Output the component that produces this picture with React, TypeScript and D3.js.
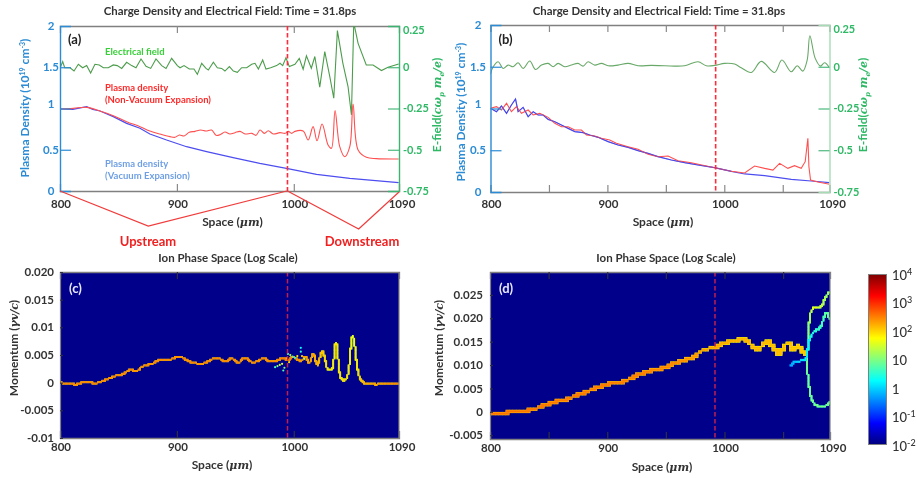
import { useEffect, useRef } from 'react';
import * as d3 from 'd3';

const FONT = 'Lato, "Open Sans", sans-serif';
const MATH = '"DejaVu Serif", "Liberation Serif", serif';

// panel (a)
const aFieldX = [800,802.3,804,808.6,812,815.7,819.4,822.8,826.2,829.9,833.6,837.1,841.3,845.6,849,852.8,857,861.3,865,869.3,873.6,877.6,882.1,887,890.7,895.5,900.4,902.7,906.1,910.6,914.6,917.5,921.2,924.9,926.9,931.2,934.6,938.3,941.1,944.9,948.3,951.7,955.4,959.7,964,966.8,969.7,973.4,976.2,980.2,985.3,988.2,990.5,993.3,996.2,1001,1004.7,1008,1010.8,1015,1018,1022.2,1026.5,1030.8,1034.2,1037.3,1042,1046.4,1049.3,1051.3,1055,1062,1067.8,1075,1080.6,1089.7];
const aField = [-.007,.034,-.003,-.003,-.023,.018,-.003,.01,-.035,.018,.014,-.003,-.003,.014,.01,-.007,.03,.01,-.003,.05,.006,-.007,.05,.01,-.007,.054,.01,-.003,.01,-.011,-.011,-.043,.024,-.007,-.017,.03,-.003,-.007,-.023,.004,-.023,-.031,-.003,-.003,.018,.024,-.011,.044,-.011,-.003,.01,.024,.01,.058,.004,.018,.054,-.012,.069,-.006,.065,-.12,.095,-.057,-.188,.222,.024,-.117,-.289,.27,.145,.014,.014,-.02,0,.02];
const aRedX = [800,811.4,822.8,834.2,845.6,857,868.4,876.9,885.5,894.1,898.4,902.1,906.1,910.6,915.5,920.3,924.9,929.7,933.5,936.9,941.1,945.4,949.7,954,958.3,964,967.7,971.1,974.8,978.2,982.5,988.2,992.5,995.3,998.2,1001,1008,1012.3,1016.5,1019.9,1024.2,1029.3,1032.2,1035.3,1039.3,1043.6,1047.9,1050.7,1055,1062.1,1070.7,1089.7];
const aRed = [.994,1.002,1.014,.97,.913,.84,.78,.727,.69,.659,.651,.679,.667,.711,.723,.739,.727,.739,.675,.683,.715,.691,.707,.723,.691,.699,.675,.739,.699,.731,.691,.707,.699,.723,.699,.723,.727,.618,.78,.61,.812,.558,.517,.974,.537,.416,.537,1.055,.497,.408,.392,.388];
const aBlueX = [800,811,822.8,828,834.2,845.6,857,868.4,876.9,891.2,908.3,925.4,948.1,970.9,993.7,1019.4,1047.9,1089.7];
const aBlue = [.994,.99,1.022,.99,.97,.901,.82,.76,.691,.618,.537,.477,.404,.335,.275,.202,.154,.101];

// panel (b)
const bFieldX = [800,802.3,806.6,810.8,815.1,819.4,823.6,827.9,833.6,838.5,843.6,849.3,853.6,857.8,863.5,869.2,874.9,879.2,883.5,889.2,894.9,900.6,909.1,917.7,926.2,937.6,949,966.1,977.5,984.6,991.7,1000.3,1008.8,1014.5,1023.1,1031.6,1043,1049.3,1057.3,1062.4,1067.2,1070.9,1073.2,1077.8,1082.3,1085.8,1090];
const bField = [-.044,0,.03,-.01,.01,0,.024,-.01,.034,-.016,.01,.02,0,.02,0,.01,.02,.004,.03,.01,.02,.006,.01,.02,.006,.008,.006,.006,.03,.006,.008,.02,.016,-.006,-.034,.032,-.034,.04,-.03,.006,-.026,.04,.186,.05,.004,.024,-.006];
const bBlueX = [800,805.1,809.4,813.7,817.9,821.4,823.6,827.9,832.2,836.5,840.7,845,849.3,855,860.7,866.4,872.1,879.2,884.9,892,900.6,909.1,917.7,926.2,934.8,943.3,954.7,966.1,977.5,991.7,1006,1017.4,1034.5,1057.3,1074.4,1090];
const bBlue = [1.002,.962,1.03,.942,1.042,1.114,.962,1.014,.902,.962,.922,.922,.87,.842,.802,.762,.723,.711,.683,.655,.603,.563,.535,.495,.463,.423,.383,.351,.323,.291,.248,.216,.196,.152,.132,.112];
const bRedX = [800,805.1,809.4,813.7,817.9,822.2,826.5,832.2,836.5,842.2,849.3,855,860.7,866.4,872.1,877.8,882.1,889.2,894.9,902,907.7,917.7,926.2,934.8,943.3,951.9,960.4,971.8,991.7,1006,1017.4,1025.9,1034.5,1041.6,1047.3,1054.4,1060.1,1065.8,1069.2,1071.5,1072.4,1073.8,1080.1,1090];
const bRed = [1.002,1.022,.982,1.062,.962,1.022,.942,.982,.922,.942,.894,.822,.782,.782,.742,.742,.683,.671,.643,.623,.583,.543,.511,.451,.423,.431,.375,.351,.291,.248,.228,.311,.283,.263,.343,.283,.315,.283,.363,.643,.303,.144,.12,.092];

// panel (c), counts are log10 of the phase space density
const cMainX = [800,805.7,814.2,822.8,829.9,839.9,847,854.1,859.8,865.5,871.2,879.8,885.5,894,902.6,911.1,922.5,933.9,942.5,946.7,952.4,958.1,965.2,974.5,978.2,985.4,991,995.3,999.6,1002.5,1006.7,1009.6,1013.3,1016.7,1020.1,1024.4,1029.6,1032.4,1036.1,1041,1044.7,1050.4,1056.1,1060.4,1089.7];
const cMain = [0,-.00012,-.0003,.00018,-.00012,.0006,.0012,.00156,.00228,.00216,.003,.00348,.0042,.0042,.00468,.00378,.00348,.0045,.00378,.00438,.0036,.0045,.00366,.0044,.0039,.004,.0044,.0041,.0047,.0042,.004,.0047,.0036,.0052,.0032,.0056,.0023,.0024,.0072,.0006,.0006,.0084,.0011,-.00006,-.00006];
const cLogX = [800,985,995,1020,1030,1037,1045,1051,1060,1090];
const cLog = [2.5,2.5,2.6,2.3,1.9,1.9,2,1.7,2.3,2.5];
const cScatterX = [984,986,988,990,991,992,994,995,996,997,999,1001,1003,1006,1006,1007,1009];
const cScatter = [.0028,.003,.0032,.0034,.0022,.0027,.0044,.0052,.0037,.005,.0047,.0045,.0048,.0056,.0063,.0048,.0043];
const cScatterLog = [.6,1,1.3,1.6,.7,1,1.9,.7,2,1.3,.8,.4,1.9,.5,.3,2,1.2];

// panel (d)
const dMainX = [800,811.4,822.7,834.1,845.5,856.9,862.6,868.2,879.6,891,902.4,913.7,925.1,936.5,947.9,959.2,970.6,982,991.9,1004.7,1013.3,1019,1023.3,1027.5,1031.8,1037.5,1041.7,1046.9,1051.7,1056,1058.2,1063,1067.3,1070.2];
const dMain = [-.0002,-.0002,.00007,.00035,.00126,.00217,.00245,.003,.00406,.0051,.006,.0065,.00776,.00874,.00944,.01056,.0114,.01315,.01385,.0151,.0154,.0154,.0142,.0133,.014,.0151,.0138,.0121,.0144,.0144,.0133,.014,.0128,.0124];
const dUpperX = [1070.2,1071.6,1073.6,1076.4,1082.9,1085.8,1089.5];
const dUpper = [.0083,.0159,.0212,.0222,.0226,.0243,.0257];
const dMiddleX = [1056.8,1060.2,1064.5,1068.7,1073,1077.3,1081.5,1084.4,1086.7,1089.5];
const dMiddle = [.0098,.0107,.0109,.0112,.0159,.0173,.018,.0198,.0212,.0198];
const dLowerX = [1070.2,1071.6,1073,1075.3,1079.3,1087.2,1089.5];
const dLower = [.0095,.0069,.0041,.0023,.0013,.0014,.0021];

const labelTicks = [800, 900, 1000, 1090];
const densityTicks = [0, 0.5, 1, 1.5, 2];
const fieldTicks = [-0.75, -0.5, -0.25, 0, 0.25];
const cTicks = [-0.01, -0.005, 0, 0.005, 0.01, 0.015, 0.02];
const cTickText = ['-0.01', '-0.005', '0', '0.005', '0.01', '0.015', '0.020'];
const dTicks = [-0.005, 0, 0.005, 0.01, 0.015, 0.02, 0.025];
const dTickText = ['-0.005', '0', '0.005', '0.010', '0.015', '0.020', '0.025'];
const jetColors = ['#00007f', '#0000ff', '#0080ff', '#00ffff', '#80ff80', '#ffff00', '#ff8000', '#ff0000', '#7f0000'];
const colorbarTicks = [0.01, 0.1, 1, 10, 100, 1000, 10000];

const jet = d3.scaleLinear<string>()
  .domain(jetColors.map((c, i) => -2 + (6 * i) / (jetColors.length - 1)))
  .range(jetColors)
  .interpolate(d3.interpolateRgb);

const pairs = (xs: number[], ys: number[]) => xs.map((x, i) => [x, ys[i]] as [number, number]);

const styleText = (sel: any, size: number, color: string) =>
  sel.attr('font-family', FONT).attr('font-size', size).attr('font-weight', 700).attr('fill', color);

const spaceLabel = (g: any, x: number, y: number) => {
  const t = styleText(g.append('text'), 12, '#333').attr('x', x).attr('y', y).attr('text-anchor', 'middle');
  t.append('tspan').text('Space (');
  t.append('tspan').attr('font-family', MATH).attr('font-style', 'italic').attr('font-size', 11).text('μm');
  t.append('tspan').text(')');
};

const frame = (g: any, x: any, y: any, innerTicks: number[], tickColor: string) => {
  const y1 = y.range()[0];
  const y0 = y.range()[1];
  const bottom = g.append('g').attr('transform', `translate(0,${y1})`).call(d3.axisBottom(x).tickValues(innerTicks).tickSize(-7).tickFormat(() => ''));
  const top = g.append('g').attr('transform', `translate(0,${y0})`).call(d3.axisTop(x).tickValues(innerTicks).tickSize(-7).tickFormat(() => ''));
  [bottom, top].forEach((a: any) => {
    a.select('.domain').attr('stroke', '#808080').attr('stroke-width', 1.3);
    a.selectAll('.tick line').attr('stroke', tickColor).attr('stroke-width', 1.2);
  });
};

const xLabels = (g: any, x: any, y: number) => {
  g.append('g').selectAll('text').data(labelTicks).join('text')
    .attr('x', (d: number) => x(d) + (d === 1090 ? 3 : 1))
    .attr('y', y).attr('text-anchor', 'middle').attr('dy', '0.35em')
    .text((d: number) => d)
    .call(styleText, 11.5, '#333');
};

const density = (svg: any, opts: any) => {
  const { left, right, top, bottom, field, red, blue, innerTicks, dashX, fade, tag, centerTitle, blurb, rhoX, fieldX, tickX } = opts;
  const g = svg.append('g');
  const x = d3.scaleLinear().domain([800, 1090]).range([left, right]);
  const y = d3.scaleLinear().domain([0, 2]).range([bottom, top]);
  const yr = d3.scaleLinear().domain([-0.75, 0.25]).range([bottom, top]);
  const clipId = `clip-${tag}`;
  g.append('clipPath').attr('id', clipId).append('rect').attr('x', left).attr('y', top).attr('width', right - left).attr('height', bottom - top);

  frame(g, x, y, innerTicks, '#8a8a8a');

  const smooth = d3.line().curve(d3.curveCatmullRom.alpha(0.5));
  const sharp = d3.line();
  const redLine = fade ? sharp : smooth;
  const fieldLine = fade ? smooth : sharp;
  const plots = g.append('g').attr('clip-path', `url(#${clipId})`).attr('fill', 'none');
  plots.append('path').attr('d', fieldLine(field.map(([a, b]: number[]) => [x(a), yr(b)]))).attr('stroke', fade ? '#68a868' : '#4c9c4c').attr('stroke-width', 1.1);
  plots.append('path').attr('d', sharp(blue.map(([a, b]: number[]) => [x(a), y(b)]))).attr('stroke', '#4d4df0').attr('stroke-width', 1.2);
  plots.append('path').attr('d', redLine(red.map(([a, b]: number[]) => [x(a), y(b)]))).attr('stroke', '#ff5050').attr('stroke-width', 1.1);
  if (fade) {
    // blue shows through the red for most of panel (b)
    plots.append('path').attr('d', sharp(blue.filter((d: number[]) => d[0] < 1010).map(([a, b]: number[]) => [x(a), y(b)]))).attr('stroke', '#4040e0').attr('stroke-width', 0.7).attr('opacity', 0.7);
  }

  g.append('line').attr('x1', x(dashX)).attr('x2', x(dashX)).attr('y1', top).attr('y2', bottom)
    .attr('stroke', '#ff2a3a').attr('stroke-width', 1.6).attr('stroke-dasharray', '4.5 2.5');

  const leftAxis = g.append('g').attr('transform', `translate(${left},0)`).call(d3.axisRight(y).tickValues([0.5, 1, 1.5]).tickSize(11).tickFormat(() => ''));
  leftAxis.selectAll('path.domain').attr('stroke', '#2b8bd4').attr('stroke-width', 1.4);
  leftAxis.selectAll('.tick line').attr('stroke', '#2b8bd4').attr('stroke-width', 1.2);
  const rightColor = fade ? '#a5dcb5' : '#3cb371';
  const rightAxis = g.append('g').attr('transform', `translate(${right},0)`).call(d3.axisLeft(yr).tickValues([-0.5, -0.25, 0]).tickSize(11).tickFormat(() => ''));
  rightAxis.selectAll('path.domain').attr('stroke', rightColor).attr('stroke-width', 1.4);
  rightAxis.selectAll('.tick line').attr('stroke', '#3cb371').attr('stroke-width', 1.1);

  g.append('g').selectAll('text').data(densityTicks).join('text')
    .attr('x', tickX).attr('y', (d: number) => y(d) + (d === 1 ? -5 : 0))
    .attr('text-anchor', 'middle').attr('dy', '0.35em').text((d: number) => d)
    .call(styleText, 11.5, '#2b8bd4');
  g.append('g').selectAll('text').data(fieldTicks).join('text')
    .attr('x', right + 4).attr('y', (d: number) => yr(d) + (d === 0.25 ? 4 : 0))
    .attr('dy', '0.35em').text((d: number) => d)
    .call(styleText, 11, '#2fb866');

  xLabels(g, x, 204);
  spaceLabel(g, (left + right) / 2 + 3, 226);

  styleText(g.append('text'), 11.4, '#333').attr('x', centerTitle).attr('y', 15).attr('text-anchor', 'middle')
    .text('Charge Density and Electrical Field: Time = 31.8ps');
  styleText(g.append('text'), 13, '#222').attr('x', left + 8).attr('y', 44).text(`(${tag})`);

  const yt = styleText(g.append('text'), 12, '#2b8bd4')
    .attr('transform', `translate(${rhoX},${blurb}) rotate(-90)`).attr('text-anchor', 'middle');
  yt.append('tspan').text('Plasma Density (10');
  yt.append('tspan').attr('font-size', 7).attr('dy', -4).text('19');
  yt.append('tspan').attr('dy', 4).text(' cm');
  yt.append('tspan').attr('font-size', 7).attr('dy', -4).text('-3');
  yt.append('tspan').attr('dy', 4).text(')');

  const er = styleText(g.append('text'), 12, '#2fb866')
    .attr('transform', `translate(${fieldX},105) rotate(-90)`).attr('text-anchor', 'middle');
  er.append('tspan').text('E-field(');
  const m = er.append('tspan').attr('font-family', MATH).attr('font-style', 'italic').attr('font-size', 11);
  m.append('tspan').text('cω');
  m.append('tspan').attr('font-size', 7).attr('dy', 3).text('p');
  m.append('tspan').attr('dy', -3).text(' m');
  m.append('tspan').attr('font-size', 7).attr('dy', 3).text('e');
  m.append('tspan').attr('dy', -3).text('/e');
  er.append('tspan').text(')');
  return { g, x, y };
};

const phase = (svg: any, opts: any) => {
  const { left, right, top, bottom, domain, ticks, tickText, dashX, tag, centerTitle, labelX, momentumX, innerTicks, spaceCenter, xLabelY, spaceY } = opts;
  const g = svg.append('g');
  const x = d3.scaleLinear().domain([800, 1090]).range([left, right]);
  const y = d3.scaleLinear().domain(domain).range([bottom, top]);
  g.append('rect').attr('x', left).attr('y', top).attr('width', right - left).attr('height', bottom - top).attr('fill', '#00008b');
  const clipId = `clip-${tag}`;
  g.append('clipPath').attr('id', clipId).append('rect').attr('x', left).attr('y', top).attr('width', right - left).attr('height', bottom - top);
  const marks = g.append('g').attr('clip-path', `url(#${clipId})`);

  g.append('line').attr('x1', x(dashX)).attr('x2', x(dashX)).attr('y1', top).attr('y2', bottom)
    .attr('stroke', '#c0204c').attr('stroke-width', 1.5).attr('stroke-dasharray', '4.5 2.5');

  frame(g, x, y, innerTicks, '#303040');
  const la = g.append('g').attr('transform', `translate(${left},0)`).call(d3.axisRight(y).tickValues(ticks).tickSize(3).tickFormat(() => ''));
  la.select('.domain').attr('stroke', '#808080').attr('stroke-width', 1.2);
  la.selectAll('.tick line').attr('stroke', '#303040');
  g.append('line').attr('x1', right).attr('x2', right).attr('y1', top).attr('y2', bottom).attr('stroke', '#808080').attr('stroke-width', 1.2);

  g.append('g').selectAll('text').data(ticks).join('text')
    .attr('x', labelX).attr('y', (d: number) => y(d)).attr('text-anchor', 'end').attr('dy', '0.35em')
    .text((_: number, i: number) => tickText[i])
    .call(styleText, 11.5, '#333');
  xLabels(g, x, xLabelY);
  spaceLabel(g, spaceCenter, spaceY);
  styleText(g.append('text'), 11.5, '#333').attr('x', centerTitle).attr('y', 262).attr('text-anchor', 'middle').text('Ion Phase Space (Log Scale)');
  styleText(g.append('text'), 13, '#e8e8ff').attr('x', left + 9).attr('y', 293).text(`(${tag})`);

  const mt = styleText(g.append('text'), 12, '#333').attr('transform', `translate(${momentumX},348) rotate(-90)`).attr('text-anchor', 'middle');
  mt.append('tspan').text('Momentum  (');
  mt.append('tspan').attr('font-family', MATH).attr('font-style', 'italic').attr('font-size', 11).text('γv/c');
  mt.append('tspan').text(')');
  return { marks, x, y };
};

// heat trace: walk the curve and stamp binned cells coloured from the log count along x
const heatTrace = (marks: any, x: any, y: any, points: [number, number][], logAt: (v: number) => number, cell: number[], halo: number) => {
  const path = marks.append('path')
    .attr('d', d3.line().curve(d3.curveCatmullRom.alpha(0.5))(points.map(([a, b]) => [x(a), y(b)])));
  const node = path.node() as SVGPathElement;
  const total = node.getTotalLength();
  const seen = new Map<string, [number, number]>();
  d3.range(0, total, 0.6).forEach((l) => {
    const p = node.getPointAtLength(l);
    const cx = Math.round(p.x / cell[0]) * cell[0];
    const cy = Math.round(p.y / cell[1]) * cell[1];
    seen.set(`${cx},${cy}`, [cx, cy]);
  });
  path.remove();
  const cells = Array.from(seen.values());
  const stamp = (w: number, h: number, delta: number) => {
    marks.append('g').selectAll('rect').data(cells).join('rect')
      .attr('x', (d: number[]) => d[0] - w / 2).attr('y', (d: number[]) => d[1] - h / 2)
      .attr('width', w).attr('height', h)
      .attr('fill', (d: number[]) => jet(logAt(x.invert(d[0])) + delta));
  };
  if (halo > 0) stamp(cell[0] + 0.4, cell[1] + halo, -0.45);
  stamp(cell[0] + 0.2, cell[1], 0);
};

const App = () => {
  const svgRef = useRef<SVGSVGElement | null>(null);

  useEffect(() => {
    if (!svgRef.current) return;
    const root = d3.select(svgRef.current);
    root.selectAll('*').remove();
    const defs = root.append('defs');
    const svg = root.append('g').style('filter', 'blur(0.4px)');

    // (a)
    const a = density(svg, {
      left: 60, right: 399, top: 26, bottom: 191, tag: 'a', centerTitle: 230, blurb: 108, rhoX: 29, fieldX: 441, tickX: 51,
      field: pairs(aFieldX, aField), red: pairs(aRedX, aRed), blue: pairs(aBlueX, aBlue),
      innerTicks: [900, 1000], dashX: 994.6, fade: false,
    });
    const note = (text: string, yy: number, color: string) =>
      styleText(a.g.append('text'), 9.5, color).attr('x', 105).attr('y', yy).attr('dy', '0.35em').text(text);
    note('Electrical field', 52, '#38d038');
    note('Plasma density', 87.5, '#ff2a2a');
    note('(Non-Vacuum Expansion)', 99.5, '#ff2a2a');
    note('Plasma density', 164, '#6f9fe4');
    note('(Vacuum Expansion)', 176, '#6f9fe4');

    const bracket = d3.line();
    const yBase = a.y(0);
    a.g.append('path').attr('fill', 'none').attr('stroke', '#f03c3c').attr('stroke-width', 1.2)
      .attr('d', bracket([[a.x(800), yBase], [a.x(875.5), yBase + 35], [a.x(994), yBase]]));
    a.g.append('path').attr('fill', 'none').attr('stroke', '#f03c3c').attr('stroke-width', 1.2)
      .attr('d', bracket([[a.x(994.6), yBase], [a.x(1055.5), yBase + 38], [a.x(1090), yBase + 1]]));
    styleText(a.g.append('text'), 13, '#f02020').attr('x', 148).attr('y', 241).attr('dy', '0.35em').attr('text-anchor', 'middle').text('Upstream');
    styleText(a.g.append('text'), 13, '#f02020').attr('x', 362).attr('y', 241).attr('dy', '0.35em').attr('text-anchor', 'middle').text('Downstream');

    // (b)
    density(svg, {
      left: 490.5, right: 829.5, top: 25, bottom: 192, tag: 'b', centerTitle: 659, blurb: 112, rhoX: 465, fieldX: 867, tickX: 478,
      field: pairs(bFieldX, bField), red: pairs(bRedX, bRed), blue: pairs(bBlueX, bBlue),
      innerTicks: [850, 900, 950, 1000, 1050], dashX: 992.6, fade: true,
    });

    // (c)
    const c = phase(svg, {
      left: 60, right: 399, top: 272, bottom: 438, domain: [-0.01, 0.02], ticks: cTicks, tickText: cTickText,
      dashX: 994.6, tag: 'c', centerTitle: 228, labelX: 54, momentumX: 18, innerTicks: [900, 1000],
      spaceCenter: 222, xLabelY: 447, spaceY: 469,
    });
    const cLogAt = d3.scaleLinear().domain(cLogX).range(cLog);
    heatTrace(c.marks, c.x, c.y, pairs(cMainX, cMain), cLogAt, [1.4, 1.4], 0.6);
    c.marks.append('g').selectAll('circle').data(cScatterX.map((v, i) => i)).join('circle')
      .attr('cx', (i: number) => c.x(cScatterX[i])).attr('cy', (i: number) => c.y(cScatter[i])).attr('r', 1.1)
      .attr('fill', (i: number) => jet(cScatterLog[i]));

    // (d)
    const d = phase(svg, {
      left: 490, right: 830, top: 272, bottom: 439, domain: [-0.0058, 0.0299], ticks: dTicks, tickText: dTickText,
      dashX: 991.9, tag: 'd', centerTitle: 666, labelX: 483, momentumX: 443, innerTicks: [850, 900, 950, 1000, 1050],
      spaceCenter: 662, xLabelY: 448, spaceY: 471,
    });
    heatTrace(d.marks, d.x, d.y, pairs(dMainX, dMain), d3.scaleLinear().domain([800, 950, 1000, 1070]).range([2.6, 2.5, 2.25, 2.1]), [3.5, 2.2], 1.2);
    heatTrace(d.marks, d.x, d.y, pairs(dUpperX, dUpper), d3.scaleLinear().domain([1070, 1076, 1090]).range([1, 1.7, 1.2]), [1.5, 1.5], 0.6);
    heatTrace(d.marks, d.x, d.y, pairs(dMiddleX, dMiddle), d3.scaleLinear().domain([1056, 1069, 1075, 1090]).range([-0.2, 0.2, 0.5, 1]), [1.5, 1.8], 0.6);
    heatTrace(d.marks, d.x, d.y, pairs(dLowerX, dLower), d3.scaleLinear().domain([1070, 1090]).range([1, 1]), [1.5, 1.5], 0.6);

    // colourbar
    const barY = d3.scaleLog().domain([0.01, 10000]).range([445, 274]);
    const grad = defs.append('linearGradient').attr('id', 'jetbar').attr('x1', 0).attr('x2', 0).attr('y1', 1).attr('y2', 0);
    jetColors.forEach((col, i) => {
      grad.append('stop').attr('offset', i / (jetColors.length - 1)).attr('stop-color', col);
    });
    svg.append('rect').attr('x', 868.5).attr('y', 274.5).attr('width', 18).attr('height', 170)
      .attr('fill', 'url(#jetbar)').attr('stroke', '#808080').attr('stroke-width', 1);
    const barLabels = svg.append('g').selectAll('text').data(colorbarTicks).join('text')
      .attr('x', 892).attr('y', (v: number) => barY(v) + 1).attr('dy', '0.35em')
      .call(styleText, 13, '#333').attr('font-weight', 500);
    barLabels.each(function (v: number) {
      const t = d3.select(this);
      const exp = Math.round(Math.log10(v));
      if (exp === 0 || exp === 1) {
        t.text(v);
        return;
      }
      t.append('tspan').text('10');
      t.append('tspan').attr('font-size', 9).attr('dy', -5).text(exp);
    });
  }, []);

  return (
    <svg
      ref={svgRef}
      width={917}
      height={478}
      style={{ position: 'absolute', left: 0, top: 0, background: '#fff' }}
    />
  );
};

export default App;
